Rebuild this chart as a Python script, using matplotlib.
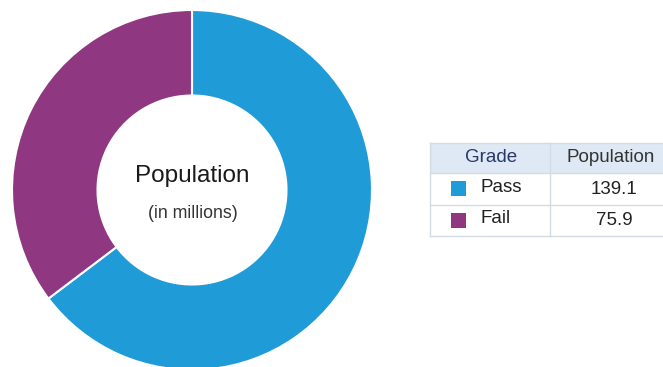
import matplotlib
matplotlib.use("Agg")
import matplotlib.pyplot as plt
from matplotlib.patches import Rectangle

categories = ["Pass", "Fail"]
values = [139.1, 75.9]
value_labels = ["139.1", "75.9"]
colors = ["#1f9bd7", "#8f3881"]
col_headers = ["Grade", "Population"]
center_title = "Population"
center_sub = "(in millions)"

plt.rcParams['font.family'] = ['Liberation Sans', 'DejaVu Sans']

W, H = 663, 367
fig = plt.figure(figsize=(W / 100, H / 100), dpi=100)

# Donut axes: center (192,190) px, outer radius 180 px
cx, cy, r = 192, 190, 180
ax = fig.add_axes([(cx - r) / W, (H - cy - r) / H, 2 * r / W, 2 * r / H])
ax.pie(values, colors=colors, startangle=90, counterclock=False,
       radius=1.0, wedgeprops=dict(width=0.475, edgecolor="white", linewidth=1.5))
ax.set_xlim(-1, 1)
ax.set_ylim(-1, 1)
ax.set_aspect("equal")
ax.axis("off")

# Overlay axes in pixel coordinates
ov = fig.add_axes([0, 0, 1, 1])
ov.set_xlim(0, W)
ov.set_ylim(H, 0)
ov.axis("off")

ov.text(cx, 176, center_title, ha="center", va="center", fontsize=17.5, color="#1a1a1a")
ov.text(cx + 1, 213, center_sub, ha="center", va="center", fontsize=12.8, color="#333333")

# Table
x0, x1, x2 = 430, 550, 668
ys = [143, 173, 205, 236]
border = "#d3dbe3"
ov.add_patch(Rectangle((x0, ys[0]), x2 - x0, ys[1] - ys[0], facecolor="#dfe9f5", edgecolor="none"))
for y in ys:
    ov.plot([x0, x2], [y, y], color=border, lw=1)
ov.plot([x0, x0], [ys[0], ys[-1]], color=border, lw=1)
ov.plot([x1, x1], [ys[0], ys[-1]], color=border, lw=1)

fs = 13.5
ov.text(491, (ys[0] + ys[1]) / 2, col_headers[0], ha="center", va="center",
        fontsize=fs, color="#2a3768", fontweight="medium")
ov.text(611, (ys[0] + ys[1]) / 2, col_headers[1], ha="center", va="center",
        fontsize=fs, color="#333333")

for i, (cat, lab, col) in enumerate(zip(categories, value_labels, colors)):
    ymid = (ys[i + 1] + ys[i + 2]) / 2
    ov.add_patch(Rectangle((451, ymid - 8), 15, 15, facecolor=col, edgecolor="none"))
    ov.text(480, ymid - 2, cat, ha="left", va="center", fontsize=fs, color="#222222")
    ov.text(614, ymid, lab, ha="center", va="center", fontsize=fs, color="#222222")

fig.savefig("out.png", dpi=100)
